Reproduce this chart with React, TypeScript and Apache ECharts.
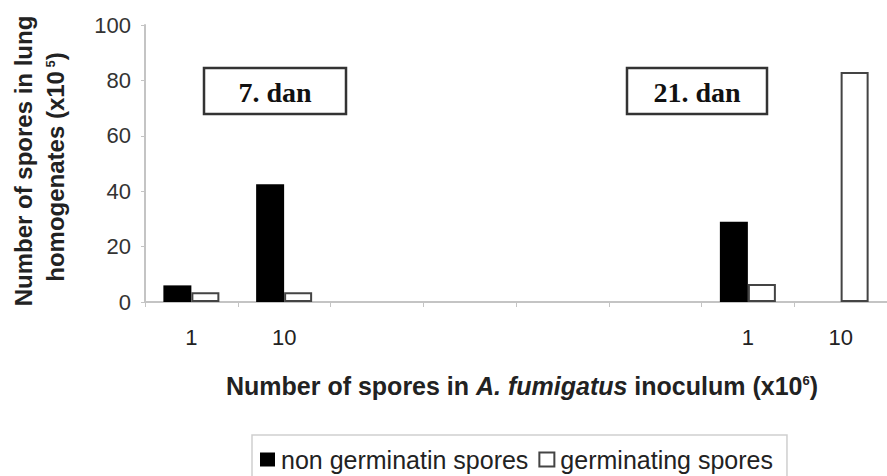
import React, { useEffect, useRef } from "react";
import * as echarts from "echarts";

const categories = ["1", "10", "", "", "", "", "1", "10"];
const nonGerminating = [6, 42.5, null, null, null, null, 29, 0];
const germinating = [3.5, 3.5, null, null, null, null, 6.5, 83];
const yTicks = { min: 0, max: 100, interval: 20 };
const seriesNames = ["non germinatin spores", "germinating spores"];
const dayLabels = ["7. dan", "21. dan"];

export default function App() {
  const ref = useRef<HTMLDivElement>(null);
  useEffect(() => {
    if (!ref.current) return;
    const chart = echarts.init(ref.current, null, { renderer: "svg" });
    const sans = "Liberation Sans, Arial, sans-serif";
    const serif = "Liberation Serif, Times New Roman, serif";
    chart.setOption({
      animation: false,
      backgroundColor: "#fff",
      grid: { left: 145, right: -10, top: 25, bottom: 174, containLabel: false },
      xAxis: {
        type: "category",
        data: categories,
        axisLine: { lineStyle: { color: "#c4c4c4", width: 2 } },
        axisTick: { show: true, length: 5, lineStyle: { color: "#c4c4c4" } },
        axisLabel: { color: "#222", fontSize: 22, fontFamily: sans, margin: 24 },
      },
      yAxis: {
        type: "value",
        min: yTicks.min,
        max: yTicks.max,
        interval: yTicks.interval,
        splitLine: { show: false },
        axisLine: { show: true, lineStyle: { color: "#c4c4c4", width: 2 } },
        axisTick: { show: true, length: 4, lineStyle: { color: "#c4c4c4" } },
        axisLabel: { color: "#333", fontSize: 22, fontFamily: sans, margin: 14 },
      },
      legend: {
        left: 252,
        top: 435,
        padding: [12, 14, 12, 8],
        borderColor: "#cfcfcf",
        borderWidth: 1.5,
        itemWidth: 15,
        itemHeight: 14,
        itemGap: 10,
        icon: "rect",
        textStyle: { color: "#222", fontSize: 25, fontFamily: sans, padding: [0, 0, 0, 1] },
        data: seriesNames,
      },
      series: [
        {
          name: seriesNames[0],
          type: "bar",
          data: nonGerminating,
          barWidth: 28,
          barGap: "0%",
          itemStyle: { color: "#000", borderWidth: 0 },
        },
        {
          name: seriesNames[1],
          type: "bar",
          data: germinating,
          barWidth: 28,
          barGap: "0%",
          itemStyle: { color: "#fff", borderColor: "#444", borderWidth: 2 },
        },
      ],
      graphic: [
        {
          type: "text",
          x: 23,
          y: 161,
          rotation: Math.PI / 2,
          style: {
            text: "Number of spores in lung",
            font: `bold 24px ${sans}`,
            fill: "#222",
            align: "center",
            verticalAlign: "middle",
          },
        },
        {
          type: "text",
          x: 55,
          y: 167,
          rotation: Math.PI / 2,
          style: {
            text: "{a|homogenates (x10}{s| 5}{a|)}",
            fill: "#222",
            align: "center",
            verticalAlign: "middle",
            rich: {
              a: { font: `bold 24px ${sans}`, fill: "#222" },
              s: { font: `bold 13px ${sans}`, fill: "#222", padding: [0, 0, 10, 0] },
            },
          },
        },
        {
          type: "text",
          x: 522,
          y: 386,
          style: {
            text: "{a|Number of spores in }{i|A. fumigatus}{a| inoculum (x10}{s|6}{a|)}",
            align: "center",
            verticalAlign: "middle",
            rich: {
              a: { font: `bold 25px ${sans}`, fill: "#222" },
              i: { font: `italic bold 25px ${sans}`, fill: "#222" },
              s: { font: `bold 13px ${sans}`, fill: "#222", padding: [0, 0, 12, 0] },
            },
          },
        },
        {
          type: "rect",
          shape: { x: 204, y: 68, width: 142, height: 46 },
          style: { fill: "#fff", stroke: "#333", lineWidth: 2.5 },
        },
        {
          type: "text",
          x: 275,
          y: 92,
          style: {
            text: dayLabels[0],
            font: `bold 28px ${serif}`,
            fill: "#111",
            align: "center",
            verticalAlign: "middle",
          },
        },
        {
          type: "rect",
          shape: { x: 627, y: 68, width: 140, height: 46 },
          style: { fill: "#fff", stroke: "#333", lineWidth: 2.5 },
        },
        {
          type: "text",
          x: 697,
          y: 92,
          style: {
            text: dayLabels[1],
            font: `bold 28px ${serif}`,
            fill: "#111",
            align: "center",
            verticalAlign: "middle",
          },
        },
      ],
    });
    return () => chart.dispose();
  }, []);
  return (
    <div
      ref={ref}
      style={{ position: "absolute", left: 0, top: 0, width: 887, height: 476, overflow: "hidden" }}
    />
  );
}
